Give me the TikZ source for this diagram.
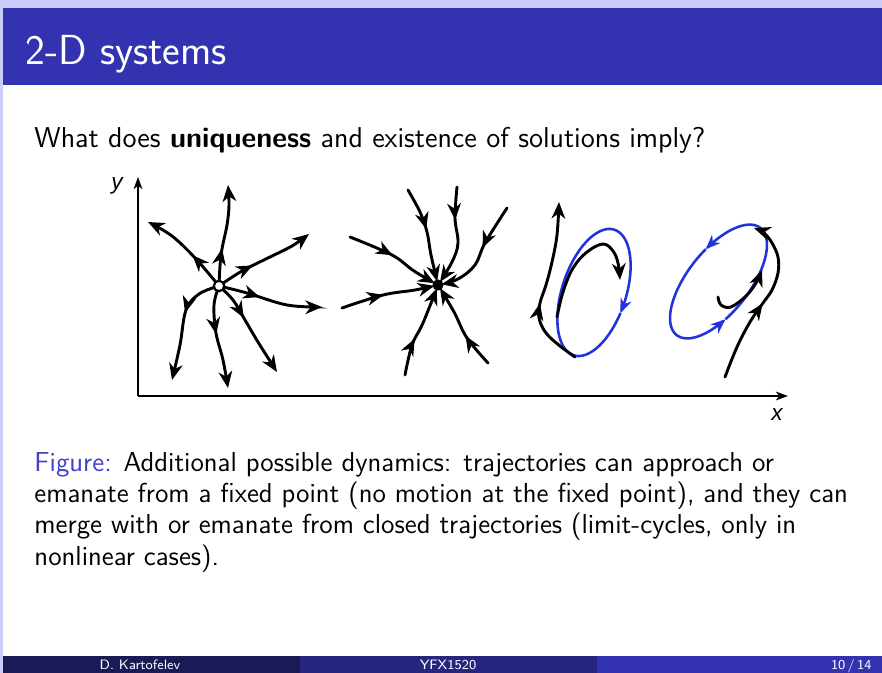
\documentclass[tikz,border=0pt]{standalone}
\usepackage{fontspec}
\newfontfamily\axfont{Liberation Sans}
\usetikzlibrary{arrows.meta,decorations.markings}
\definecolor{lav}{RGB}{204,204,250}
\definecolor{struct}{RGB}{51,51,178}
\definecolor{capblue}{RGB}{64,64,200}
\definecolor{footA}{RGB}{26,26,86}
\definecolor{footB}{RGB}{38,38,128}
\definecolor{cyc}{RGB}{34,51,221}
\pgfdeclarelayer{back}
\pgfdeclarelayer{bg}
\pgfsetlayers{back,bg,main}
\tikzset{
  traj/.style={line width=1.2pt, black, line cap=round},
  tipend/.style={-{Stealth[length=6.8pt,width=5.6pt,inset=2.1pt]}},
  midarr/.style={postaction={decorate}, decoration={markings, mark=at position #1 with {\arrow{Stealth[length=6.8pt,width=5.6pt,inset=2.1pt]}}}},
  cycline/.style={line width=1.05pt, cyc},
  cyctip/.style={-{Stealth[length=6pt,width=4.8pt,inset=1.9pt]}},
  axisline/.style={line width=0.6pt, -{Stealth[length=5pt,width=3.6pt,inset=1.4pt]}},
  bodytext/.style={anchor=base west, inner sep=0pt, font=\sffamily\fontsize{11.28}{13}\selectfont},
  foottext/.style={anchor=base, inner sep=0pt, text=white, font=\sffamily\fontsize{5.6}{6.5}\selectfont},
  axlabel/.style={anchor=base, inner sep=0pt, font=\axfont\itshape\fontsize{9.3}{11}\selectfont},
}
\begin{document}
\begin{tikzpicture}[x=0.41138pt,y=-0.41138pt]
\useasboundingbox (0,0) rectangle (882,673);
\begin{pgfonlayer}{back}
\fill[lav] (0,0) rectangle (882,673);
\fill[white] (3,85) rectangle (882,656);
\fill[struct] (3,8) rectangle (882,85);
\fill[footA] (3,656) rectangle (300,673);
\fill[footB] (300,656) rectangle (597,673);
\fill[struct] (597,656) rectangle (882,673);
\end{pgfonlayer}

% texts
\node[anchor=base west, inner sep=0pt, text=white, font=\sffamily\fontsize{17.3}{20}\selectfont] (title) at (25,65) {2-D systems};
\node[bodytext, font=\sffamily\fontsize{11.8}{14}\selectfont] (question) at (34,148) {What does \textbf{uniqueness} and existence of solutions imply?};
\node[bodytext] (cap1) at (34,472) {\textcolor{capblue}{Figure:} Additional possible dynamics: trajectories can approach or};
\node[bodytext] (cap2) at (34,503) {emanate from a fixed point (no motion at the fixed point), and they can};
\node[bodytext] (cap3) at (34,534) {merge with or emanate from closed trajectories (limit-cycles, only in};
\node[bodytext] (cap4) at (34,565) {nonlinear cases).};
\node[foottext] (fauthor) at (140,669) {D. Kartofelev};
\node[foottext] (fcourse) at (448,669) {YFX1520};
\node[foottext, anchor=base east] (fpage) at (872,669) {10\hspace{0.9pt}/\hspace{0.9pt}14};

% axes
\coordinate (O) at (138,396);
\coordinate (ytop) at (138,177);
\coordinate (xend) at (788,396);
\draw[axisline] (O) -- (ytop);
\draw[axisline] (O) -- (xend);
\node[axlabel] (xl) at (777,421) {x};
\node[axlabel] (yl) at (117,190) {y};

% fixed points
\node[circle, draw, fill=white, line width=0.9pt, minimum size=4.3pt, inner sep=0pt] (src) at (219,286) {};
\node[circle, fill=black, minimum size=4.6pt, inner sep=0pt] (snk) at (438,285) {};

\begin{pgfonlayer}{bg}
% source trajectories
\draw[traj, tipend, midarr=0.42] plot[smooth, tension=0.6] coordinates {(src.center) (196,259) (172,236) (148,222)};
\draw[traj, tipend, midarr=0.37] plot[smooth, tension=0.6] coordinates {(src.center) (221,255) (227,225) (229,205) (228,185)};
\draw[traj, tipend, midarr=0.38] plot[smooth, tension=0.6] coordinates {(src.center) (242,271) (270,257) (292,246) (309,234)};
\draw[traj, tipend, midarr=0.40] plot[smooth, tension=0.6] coordinates {(src.center) (247,293) (287,305) (322,307)};
\draw[traj, tipend, midarr=0.39] plot[smooth, tension=0.6] coordinates {(src.center) (233,300) (245,320) (258,342) (277,372)};
\draw[traj, tipend, midarr=0.47] plot[smooth, tension=0.6] coordinates {(src.center) (214,305) (216,333) (223,360) (228,388)};
\draw[traj, tipend, midarr=0.40] plot[smooth, tension=0.6] coordinates {(src.center) (199,294) (186,310) (180,345) (172,380)};
% sink trajectories
\draw[traj, tipend, midarr=0.43, shorten >=1.5pt] plot[smooth, tension=0.6] coordinates {(408,190) (420,212) (427,232) (431,255) (snk.center)};
\draw[traj, tipend, midarr=0.32, shorten >=1.5pt] plot[smooth, tension=0.6] coordinates {(457,187) (455,218) (458,243) (452,262) (snk.center)};
\draw[traj, tipend, midarr=0.43, shorten >=1.5pt] plot[smooth, tension=0.6] coordinates {(507,208) (485,243) (475,265) (458,279) (snk.center)};
\draw[traj, tipend, midarr=0.46, shorten >=1.5pt] plot[smooth, tension=0.6] coordinates {(350,237) (392,255) (414,271) (snk.center)};
\draw[traj, tipend, midarr=0.44, shorten >=1.5pt] plot[smooth, tension=0.6] coordinates {(342,308) (383,295) (415,290) (snk.center)};
\draw[traj, tipend, midarr=0.39, shorten >=1.5pt] plot[smooth, tension=0.6] coordinates {(405,375) (412,345) (423,323) (snk.center)};
\draw[traj, tipend, midarr=0.38, shorten >=1.5pt] plot[smooth, tension=0.6] coordinates {(488,363) (467,338) (454,312) (snk.center)};
\end{pgfonlayer}

% limit cycle 1 (clockwise on screen)
\begin{scope}[shift={(594,292.5)}, rotate=72]
\draw[cycline, cyctip] plot[domain=-260:100, samples=120, smooth] ({66*cos(\x)},{32*sin(\x)});
\end{scope}
\draw[traj, tipend] plot[smooth, tension=0.6] coordinates {(557,317) (563,292) (573,268) (587,252) (603,244) (613,251) (618,263) (620,280)};
\draw[traj, tipend, midarr=0.40] plot[smooth, tension=0.6] coordinates {(575,357) (560,346) (546,333) (539,318) (540,303) (546,285) (552,262) (557,235) (559,202)};

% limit cycle 2 (counter-clockwise on screen)
\begin{scope}[shift={(718.5,281.5)}, rotate=52]
\draw[cycline, cyctip] plot[domain=0:187, samples=70, smooth] ({68*cos(472-\x)},{31*sin(472-\x)});
\draw[cycline, cyctip] plot[domain=0:173, samples=70, smooth] ({68*cos(285-\x)},{31*sin(285-\x)});
\end{scope}
\draw[traj, tipend] plot[smooth, tension=0.6] coordinates {(718,297) (721,305) (731,307) (746,296) (756,283) (762,270)};
\draw[traj, tipend, midarr=0.48] plot[smooth, tension=0.6] coordinates {(725,377) (737,347) (750,322) (763,303) (772,290) (778,273) (778,257) (772,243) (764,233) (754,228)};
\end{tikzpicture}
\end{document}
